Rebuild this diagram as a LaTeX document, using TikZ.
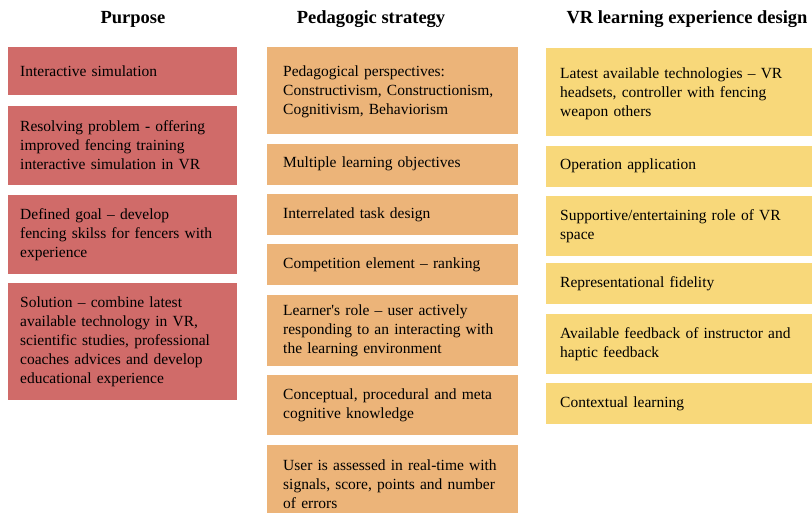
\documentclass[tikz,border=0pt]{standalone}
\usepackage{fontspec}
\setmainfont{Liberation Serif}
\usetikzlibrary{positioning}
\definecolor{purpred}{HTML}{D06B69}
\definecolor{stratorange}{HTML}{ECB479}
\definecolor{vryellow}{HTML}{F8D87A}

\begin{document}
\begin{tikzpicture}[x=1pt, y=1pt, node distance=9pt]
    \tikzstyle{head} = [font=\fontsize{18.5}{21}\selectfont\bfseries, inner sep=0pt]
    \tikzstyle{box} = [rectangle, align=left, inner ysep=2pt, font=\fontsize{15.5}{19}\selectfont]
    \tikzstyle{purp} = [box, fill=purpred, minimum width=229pt, inner xsep=12pt, text width=205pt]
    \tikzstyle{strat} = [box, fill=stratorange, minimum width=251pt, inner xsep=16pt, text width=219pt]
    \tikzstyle{vrd} = [box, fill=vryellow, minimum width=268pt, inner xsep=14pt, text width=240pt]

    \useasboundingbox (0,0) rectangle (812,-512);

    % Column titles
    \node[head] (tp) at (133,-19) {Purpose};
    \node[head] (tg) at (371,-19) {Pedagogic strategy};
    \node[head] (tv) at (687,-19) {VR learning experience design};

    % Purpose column (left, red background)
    \node[purp, minimum height=48pt, anchor=north west] (p1) at (8,-47) {Interactive simulation};
    \node[purp, minimum height=79pt] (p2) [below=10pt of p1] {Resolving problem - offering\\improved fencing training\\interactive simulation in VR};
    \node[purp, minimum height=79pt] (p3) [below=10pt of p2] {Defined goal -- develop\\fencing skilss for fencers with\\experience};
    \node[purp, minimum height=117pt] (p4) [below=of p3] {Solution -- combine latest\\available technology in VR,\\scientific studies, professional\\coaches advices and develop\\educational experience};

    % Pedagogic strategy column (middle, orange background)
    \node[strat, minimum height=87pt, anchor=north west] (g1) at (267,-47) {\\[-6pt]Pedagogical perspectives:\\Constructivism, Constructionism,\\Cognitivism, Behaviorism};
    \node[strat, minimum height=41pt] (g2) [below=of g1] {Multiple learning objectives};
    \node[strat, minimum height=41pt] (g3) [below=of g2] {Interrelated task design};
    \node[strat, minimum height=41pt] (g4) [below=of g3] {Competition element -- ranking};
    \node[strat, minimum height=71pt] (g5) [below=of g4] {Learner\textquotesingle s role -- user actively\\responding to an interacting with\\the learning environment};
    \node[strat, minimum height=60pt] (g6) [below=of g5] {Conceptual, procedural and meta\\cognitive knowledge};
    \node[strat, minimum height=80pt] (g7) [below=of g6] {User is assessed in real-time with\\signals, score, points and number\\of errors\\[10pt]};

    % VR learning experience design column (right, yellow background)
    \node[vrd, minimum height=88pt, anchor=north west] (v1) at (546,-48) {\\[-6pt]Latest available technologies -- VR\\headsets, controller with fencing\\weapon others};
    \node[vrd, minimum height=41pt] (v2) [below=of v1] {Operation application};
    \node[vrd, minimum height=60pt] (v3) [below=of v2] {Supportive/entertaining role of VR\\space};
    \node[vrd, minimum height=41pt] (v4) [below=7pt of v3] {Representational fidelity};
    \node[vrd, minimum height=60pt] (v5) [below=of v4] {Available feedback of instructor and\\haptic feedback};
    \node[vrd, minimum height=41pt] (v6) [below=of v5] {Contextual learning};
\end{tikzpicture}
\end{document}
